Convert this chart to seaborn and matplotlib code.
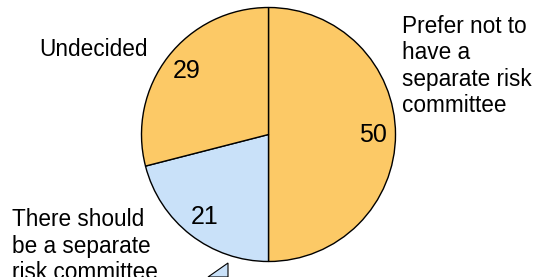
import numpy as np
import matplotlib
matplotlib.use("Agg")
import matplotlib.pyplot as plt
import seaborn as sns
from matplotlib.patches import Polygon

# data
labels = ["Prefer not to\nhave a\nseparate risk\ncommittee",
          "There should\nbe a separate\nrisk committee",
          "Undecided"]
values = [50, 21, 29]
colors = ["#FCC966", "#C9E1F9", "#FCC966"]

sns.set_theme(style="white")
plt.rcParams['font.family'] = ['Liberation Sans', 'DejaVu Sans']
plt.rcParams['text.color'] = 'black'

W, H = 541, 277
fig = plt.figure(figsize=(W / 100, H / 100), dpi=100)
ax = fig.add_axes([0, 0, 1, 1])

# pie in pixel-like coordinates
ax.pie(values, colors=colors, startangle=90, counterclock=False,
       center=(268.5, H - 134.5), radius=127, frame=True,
       wedgeprops=dict(edgecolor="black", linewidth=1.0),
       autopct=lambda p: f"{p:.0f}", pctdistance=0.82,
       textprops=dict(fontsize=18, color="black"))

# category labels
ax.text(402, H - 66, labels[0], fontsize=16.3, ha="left", va="center",
        linespacing=1.18, color="black")
ax.text(12, H - 246, labels[1], fontsize=16.3, ha="left", va="center",
        linespacing=1.22, color="black")
ax.text(148, H - 50, labels[2], fontsize=16.3, ha="right", va="center",
        color="black")

# edge of a callout pointer, cut off by the figure border
ax.add_patch(Polygon([[208, 0], [228, H - 263], [228, 0]], closed=True,
                     facecolor="#C9E1F9", edgecolor="black", linewidth=0.8))

ax.set_xlim(0, W)
ax.set_ylim(0, H)
ax.set_aspect("equal")
ax.axis("off")

plt.savefig("out.png", dpi=100)
